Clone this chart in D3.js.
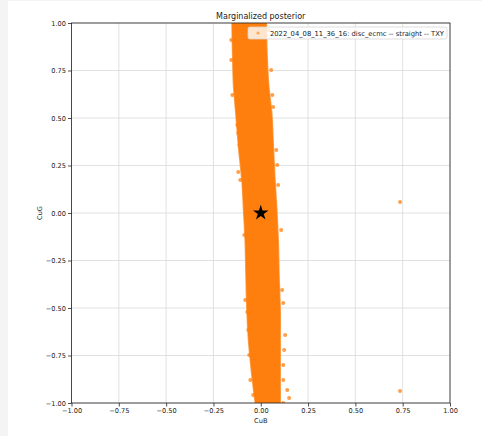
<!DOCTYPE html>
<html>
<head>
<meta charset="utf-8">
<script src="https://cdn.jsdelivr.net/npm/d3@7"></script>
<style>
  body { margin: 0; background: #f4f4f4; }
  svg { display: block; font-family: "DejaVu Sans", sans-serif; }
</style>
</head>
<body>
<svg id="chart" width="482" height="436"></svg>
<script>
// band of the posterior samples, edges (CuG level, left CuB, right CuB)
var bandLevels = [1.0, 0.853, 0.674, 0.516, 0.342, 0.163, 0.016, -0.158, -0.337, -0.511, -0.668, -0.853, -1.0];
var bandLeft   = [-0.152, -0.149, -0.144, -0.131, -0.117, -0.099, -0.091, -0.082, -0.078, -0.073, -0.065, -0.047, -0.029];
var bandRight  = [0.030, 0.033, 0.042, 0.059, 0.067, 0.076, 0.085, 0.093, 0.097, 0.103, 0.103, 0.103, 0.103];

// loose samples sitting off the band
var looseCuB = [-0.156, -0.156, -0.150, -0.119, -0.124, -0.119, -0.113, -0.119, -0.108, -0.087, -0.082, -0.071, -0.066, -0.061, -0.055, -0.040,
                0.040, 0.055, 0.061, 0.066, 0.082, 0.087, 0.092, 0.108, 0.113, 0.119, 0.129, 0.124, 0.119, 0.119, 0.140, 0.150, 0.119,
                0.736, 0.736];
var looseCuG = [0.911, 0.805, 0.621, 0.500, 0.463, 0.421, 0.358, 0.216, 0.174, -0.116, -0.458, -0.521, -0.616, -0.747, -0.879, -0.958,
                0.963, 0.753, 0.621, 0.558, 0.332, 0.253, 0.147, -0.089, -0.405, -0.474, -0.642, -0.721, -0.800, -0.879, -0.932, -0.974, -1.0,
                0.058, -0.937];

// true value
var truthCuB = [0.0];
var truthCuG = [0.0];

var tickValues = [-1, -0.75, -0.5, -0.25, 0, 0.25, 0.5, 0.75, 1];
var legendLabel = "2022_04_08_11_36_16: disc_ecmc -- straight -- TXY";
var orange = "#ff7f0e";

var svg = d3.select("#chart");
svg.append("rect").attr("x", 8).attr("y", 1).attr("width", 474).attr("height", 435).attr("fill", "#fff");

var x = d3.scaleLinear().domain([-1, 1]).range([71.5, 450]);
var y = d3.scaleLinear().domain([-1, 1]).range([403, 23]);

// grid
var grid = svg.append("g");
grid.selectAll(".gx").data(tickValues).enter().append("line")
  .attr("x1", d => x(d)).attr("x2", d => x(d)).attr("y1", y(-1)).attr("y2", y(1))
  .attr("stroke", "#d9d9d9").attr("stroke-width", 0.8);
grid.selectAll(".gy").data(tickValues).enter().append("line")
  .attr("y1", d => y(d)).attr("y2", d => y(d)).attr("x1", x(-1)).attr("x2", x(1))
  .attr("stroke", "#d9d9d9").attr("stroke-width", 0.8);

svg.append("clipPath").attr("id", "plotclip").append("rect")
  .attr("x", x(-1)).attr("y", y(1)).attr("width", x(1) - x(-1)).attr("height", y(-1) - y(1));

var plot = svg.append("g").attr("clip-path", "url(#plotclip)");

var band = bandLevels.map(function(v, i) { return {v: v, l: bandLeft[i], r: bandRight[i]}; });
var area = d3.area()
  .y(d => y(d.v))
  .x0(d => x(d.l))
  .x1(d => x(d.r))
  .curve(d3.curveCatmullRom);
plot.append("path").datum(band).attr("d", area).attr("fill", orange)
  .attr("stroke", orange).attr("stroke-width", 1.5).attr("stroke-opacity", 0.7);

plot.selectAll(".loose").data(looseCuB).enter().append("circle")
  .attr("cx", d => x(d))
  .attr("cy", (d, i) => y(looseCuG[i]))
  .attr("r", 2)
  .attr("fill", orange).attr("fill-opacity", 0.75);

svg.selectAll(".truth").data(truthCuB).enter().append("path")
  .attr("d", d3.symbol().type(d3.symbolStar).size(75))
  .attr("transform", (d, i) => "translate(" + x(d) + "," + y(truthCuG[i]) + ")")
  .attr("fill", "#000");

// axes
var fmt = d => d3.format(".2f")(d).replace("-", "\u2212");
var xAxis = svg.append("g").attr("transform", "translate(0," + y(-1) + ")")
  .call(d3.axisBottom(x).tickValues(tickValues).tickFormat(fmt).tickSize(3.5).tickPadding(2));
var yAxis = svg.append("g").attr("transform", "translate(" + x(-1) + ",0)")
  .call(d3.axisLeft(y).tickValues(tickValues).tickFormat(fmt).tickSize(3.5).tickPadding(2));
[xAxis, yAxis].forEach(function(a) {
  a.select(".domain").remove();
  a.selectAll("line").attr("stroke", "#222").attr("stroke-width", 0.8);
  a.selectAll("text").attr("font-size", 6.6).attr("fill", "#222").attr("font-family", "DejaVu Sans");
});

// frame
svg.append("rect").attr("x", x(-1)).attr("y", y(1)).attr("width", x(1) - x(-1)).attr("height", y(-1) - y(1))
  .attr("fill", "none").attr("stroke", "#222").attr("stroke-width", 0.8);

svg.append("text").attr("x", (x(-1) + x(1)) / 2).attr("y", 19).attr("text-anchor", "middle")
  .attr("font-size", 8).attr("fill", "#222").text("Marginalized posterior");
svg.append("text").attr("x", (x(-1) + x(1)) / 2).attr("y", 423).attr("text-anchor", "middle")
  .attr("font-size", 6.6).attr("fill", "#222").text("CuB");
svg.append("text").attr("transform", "translate(42," + y(0) + ") rotate(-90)").attr("text-anchor", "middle")
  .attr("font-size", 6.6).attr("fill", "#222").text("CuG");

// legend
var legend = svg.append("g");
legend.append("rect").attr("x", 248).attr("y", 27).attr("width", 199).attr("height", 12).attr("rx", 2)
  .attr("fill", "#fff").attr("fill-opacity", 0.8).attr("stroke", "#d6d6d6").attr("stroke-width", 0.8);
legend.append("circle").attr("cx", 258).attr("cy", 33).attr("r", 1.6).attr("fill", orange).attr("fill-opacity", 0.6);
legend.append("text").attr("x", 270).attr("y", 35.5).attr("font-size", 6.8).attr("fill", "#222")
  .attr("textLength", 174).attr("lengthAdjust", "spacingAndGlyphs").text(legendLabel);
</script>
</body>
</html>
